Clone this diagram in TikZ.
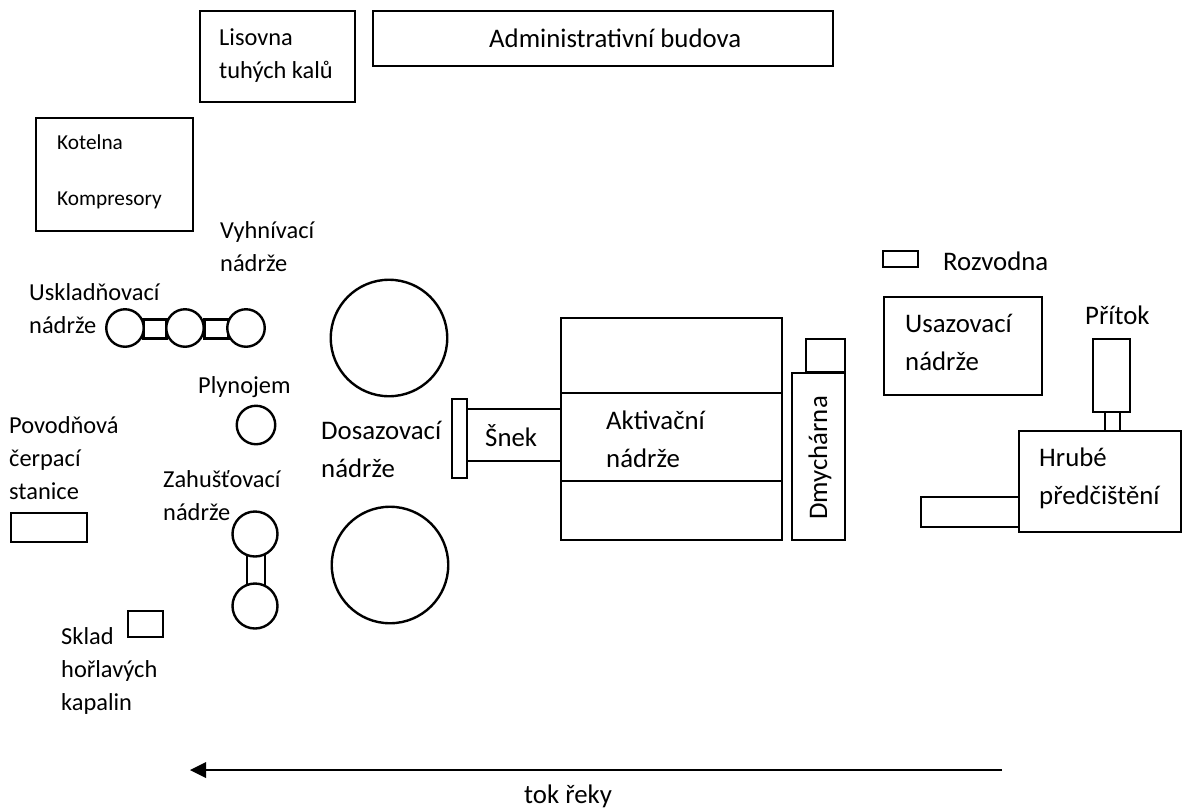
\documentclass[tikz,border=0pt]{standalone}
\usepackage{fontspec}
\setmainfont{Carlito}
\begin{document}
\begin{tikzpicture}[x=1pt,y=-1pt,
 box/.style={draw=black,line width=2.4pt,fill=white,inner sep=0pt,outer sep=0pt},
 lbl/.style={anchor=west,inner sep=0pt,font=\fontsize{24.4}{33}\selectfont,align=left},
 slbl/.style={anchor=west,inner sep=0pt,font=\fontsize{21.3}{28}\selectfont,align=left},
 blbl/.style={anchor=west,inner sep=0pt,font=\fontsize{26.8}{38}\selectfont,align=left},
 tank/.style={draw=black,line width=2.4pt,fill=white,circle,inner sep=0pt,outer sep=0pt}]
\useasboundingbox (0,0) rectangle (1183,809);
\tikzset{rc/.style args={#1/#2/#3/#4}{box,rectangle,minimum width=#3-#1,minimum height=#4-#2,anchor=north west}}
\node[rc=200/11/355/102] (lis) at (200,11) {};
\node[rc=373/11/833/66] (adm) at (373,11) {};
\node[rc=36/118/193/231] (kot) at (36,118) {};
\node[rc=883/251/918/267] (roz) at (883,251) {};
\node[rc=884/297/1042/395] (usa) at (884,297) {};
\node[rc=1093/339/1130/412] (pri) at (1093,339) {};
\node[rc=1105/412/1120/431] (prik) at (1105,412) {};
\node[rc=921/497/1019/527] (hrub) at (921,497) {};
\node[rc=1019/431/1181/532] (hru) at (1019,431) {};
\node[rc=806/339/845/372] (dmt) at (806,339) {};
\node[rc=792/373/845/540] (dmy) at (792,373) {};
\node[rc=561/318/782/540] (akt) at (561,318) {};
\draw[line width=2.4pt] (561,393) coordinate (a1) -- (782,393) coordinate (a2);
\draw[line width=2.4pt] (561,481) coordinate (a3) -- (782,481) coordinate (a4);
\node[rc=467/409/561/461] (sne) at (467,409) {};
\node[rc=452/399/467/478] (snp) at (452,399) {};
\node[rc=143/319/166/338,line width=3pt] (u1) at (143,319) {};
\node[rc=204/319/228/338,line width=3pt] (u2) at (204,319) {};
\node[tank,minimum size=37.5pt] (c1) at (125,328) {};
\node[tank,minimum size=37.5pt] (c2) at (185,328) {};
\node[tank,minimum size=37.5pt] (c3) at (246,328) {};
\node[tank,minimum size=116.5pt] (v1) at (389,338) {};
\node[tank,minimum size=116.5pt] (v2) at (390,565) {};
\node[tank,minimum size=38.5pt] (pl) at (256,425) {};
\node[rc=247/555/265/585] (z0) at (247,555) {};
\node[tank,minimum size=45pt] (z1) at (255,534) {};
\node[tank,minimum size=45pt] (z2) at (255,606) {};
\node[rc=11/513/87/542] (pov) at (11,513) {};
\node[rc=128/611/163/637] (skl) at (128,611) {};
\node[lbl] (t1) at (219,55.5) {Lisovna\\tuhých kalů};
\node[blbl] (t2) at (489,38) {Administrativní budova};
\node[slbl] (t3) at (57,142) {Kotelna};
\node[slbl] (t4) at (57,200) {Kompresory};
\node[lbl] (t5) at (220,247) {Vyhnívací\\nádrže};
\node[lbl] (t6) at (29,309) {Uskladňovací\\nádrže};
\node[lbl] (t7) at (198,387) {Plynojem};
\node[lbl] (t8) at (9,458) {Povodňová\\čerpací\\stanice};
\node[lbl] (t9) at (163,496) {Zahušťovací\\nádrže};
\node[lbl] (t10) at (61,671) {Sklad\\hořlavých\\kapalin};
\node[blbl] (t11) at (321,449) {Dosazovací\\nádrže};
\node[blbl] (t12) at (485,436) {Šnek};
\node[blbl] (t13) at (606,439) {Aktivační\\nádrže};
\node[blbl,rotate=90,anchor=center] (t14) at (820,458) {Dmychárna};
\node[blbl] (t15) at (905,342) {Usazovací\\nádrže};
\node[blbl] (t16) at (943,261) {Rozvodna};
\node[blbl] (t17) at (1085,315) {Přítok};
\node[blbl] (t18) at (1039,478.5) {Hrubé\\předčištění};
\node[blbl] (t19) at (524,796) {tok řeky};
\coordinate (r) at (1002,770);
\coordinate (l) at (190,770);
\draw[line width=2.4pt] (r) -- (204,770);
\fill (l) -- (206,762) -- (206,778) -- cycle;
\end{tikzpicture}
\end{document}
